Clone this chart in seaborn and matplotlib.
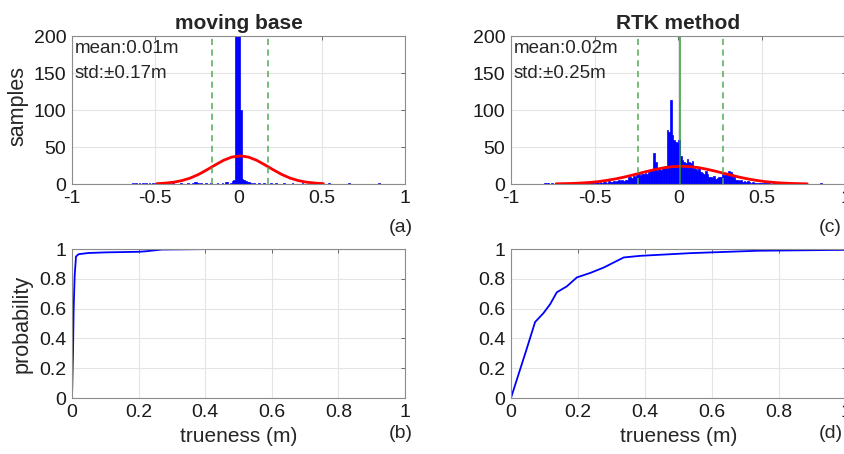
import numpy as np
import matplotlib
matplotlib.use("Agg")
import matplotlib.pyplot as plt
import seaborn as sns

# histogram data (bin width 0.01 m)
# moving base: sparse bins (centre, count)
mb_pos = [-0.635, -0.615, -0.595, -0.575, -0.555, -0.535, -0.515, -0.495, -0.455, -0.395,
          -0.345, -0.305, -0.275, -0.265, -0.255, -0.245, -0.225, -0.195, -0.165, -0.125,
          -0.095, -0.075, -0.065, -0.045, -0.035, -0.025, -0.015, -0.005, 0.005, 0.015,
          0.025, 0.035, 0.045, 0.055, 0.065, 0.075, 0.095, 0.125, 0.155, 0.195,
          0.225, 0.275, 0.325, 0.385, 0.465, 0.505, 0.545, 0.665, 0.845]
mb_cnt = [1, 1, 1, 1, 1, 1, 1, 1, 1, 1,
          1, 1, 2, 3, 3, 2, 2, 1, 1, 1,
          2, 3, 3, 2, 4, 5, 250, 620, 900, 100,
          7, 5, 4, 3, 3, 2, 1, 1, 1, 1,
          1, 1, 1, 1, 1, 1, 1, 1, 1]

# RTK: contiguous bins starting at -0.80, plus two outliers
rtk_start = -0.80
rtk_cnt = [2, 2, 1, 0, 1, 0, 0, 1, 0, 1, 1, 0, 1, 1, 0, 2, 1, 0, 1, 1,
           1, 2, 1, 1, 2, 1, 2, 1, 2, 2,
           2, 3, 2, 3, 2, 3, 3, 2, 4, 3, 3, 4, 3, 4, 5, 4, 5, 4, 6, 5,
           9, 10, 8, 11, 10, 12, 13, 11, 14, 13, 15, 14, 16, 17, 18,
           42, 30, 18, 20, 19, 21, 22, 25,
           73, 70, 114, 66, 60, 57, 55, 60,
           38, 32, 30, 28, 34, 30, 28, 31, 22,
           20, 18, 22, 16, 15, 14, 17, 13,
           10, 9, 8, 11, 7, 8, 9, 10,
           13, 12, 15, 14, 17, 16, 13, 9,
           6, 5, 4, 5, 3, 4, 3, 4, 3, 2, 3, 2, 2, 1, 2, 1,
           1, 1, 2, 1, 1, 0, 1, 1, 0, 1]
rtk_out_pos = [0.725, 0.855]
rtk_out_cnt = [2, 1]

# fitted normal curves
mb_fit_x = [-0.49, -0.44, -0.39, -0.34, -0.29, -0.24, -0.19, -0.14, -0.09, -0.04, 0.01,
            0.06, 0.11, 0.16, 0.21, 0.26, 0.31, 0.36, 0.41, 0.46, 0.51]
mb_fit_y = [0.5, 1.2, 2.4, 4.6, 8.0, 12.9, 19.1, 25.7, 32.0, 36.4, 38.0,
            36.4, 32.0, 25.7, 19.1, 12.9, 8.0, 4.6, 2.4, 1.2, 0.5]
rtk_fit_x = [-0.73, -0.68, -0.63, -0.58, -0.53, -0.48, -0.43, -0.38, -0.33, -0.28, -0.23,
             -0.18, -0.13, -0.08, -0.03, 0.02, 0.07, 0.12, 0.17, 0.22, 0.27,
             0.32, 0.37, 0.42, 0.47, 0.52, 0.57, 0.62, 0.67, 0.72, 0.77]
rtk_fit_y = [0.27, 0.48, 0.82, 1.35, 2.1, 3.2, 4.8, 6.7, 9.0, 11.7, 14.6,
             17.4, 20.0, 22.2, 23.5, 24.0, 23.5, 22.2, 20.0, 17.4, 14.6,
             11.7, 9.0, 6.7, 4.8, 3.2, 2.1, 1.35, 0.82, 0.48, 0.27]

# mean +- std markers
mb_std_lines = [-0.16, 0.18]
rtk_std_lines = [-0.24, 0.27]
rtk_mean_line = 0.01

# cumulative distributions
mb_cdf_x = [0, 0.003, 0.005, 0.008, 0.012, 0.02, 0.05, 0.1, 0.2, 0.22, 0.27, 0.4, 1.0]
mb_cdf_y = [0, 0.3, 0.6, 0.82, 0.95, 0.966, 0.974, 0.978, 0.982, 0.985, 0.997, 1.0, 1.0]
rtk_cdf_x = [0, 0.027, 0.047, 0.072, 0.097, 0.117, 0.137, 0.167, 0.197, 0.237, 0.277,
             0.307, 0.337, 0.387, 0.537, 0.737, 1.0]
rtk_cdf_y = [0, 0.19, 0.33, 0.51, 0.57, 0.63, 0.71, 0.75, 0.81, 0.84, 0.876,
             0.91, 0.944, 0.955, 0.973, 0.989, 0.995]

sns.set_style("whitegrid", {"axes.edgecolor": "#8c8c8c", "grid.color": "#e4e4e4"})
plt.rcParams['font.family'] = ['Liberation Sans', 'DejaVu Sans']

BLUE = "#0000ff"
DASH_GREEN = "#55aa55"
fig = plt.figure(figsize=(8.45, 4.54), dpi=100)
ax_a = fig.add_axes([0.0852, 0.5947, 0.394, 0.326])
ax_c = fig.add_axes([0.6047, 0.5947, 0.396, 0.326])
ax_b = fig.add_axes([0.0852, 0.1233, 0.394, 0.328])
ax_d = fig.add_axes([0.6047, 0.1233, 0.396, 0.328])


def style(ax):
    ax.tick_params(direction="in", length=3, width=0.6, color="#555555",
                   labelsize=14, labelcolor="#1a1a1a", top=True, right=True, pad=4)
    for sp in ax.spines.values():
        sp.set_linewidth(0.8)
    ax.grid(True, linewidth=0.8)


def hist_panel(ax, pos, cnt, edges, fit_x, fit_y, std_lines, title, txt, mean_line=None):
    sns.histplot(x=pos, weights=cnt, bins=edges, ax=ax, color=BLUE,
                 edgecolor=BLUE, linewidth=0.5, alpha=1)
    sns.lineplot(x=fit_x, y=fit_y, ax=ax, color="red", linewidth=2)
    for v in std_lines:
        ax.axvline(v, color=DASH_GREEN, linestyle=(0, (4, 3)), linewidth=1.1)
    if mean_line is not None:
        ax.axvline(mean_line, color="#2e9a2e", linewidth=1.1)
    ax.set_xlim(-1, 1)
    ax.set_ylim(0, 200)
    ax.set_xticks([-1, -0.5, 0, 0.5, 1])
    ax.set_xticklabels(["-1", "-0.5", "0", "0.5", "1"])
    ax.set_yticks([0, 50, 100, 150, 200])
    ax.set_title(title, fontsize=15, fontweight="bold", pad=5)
    ax.set_xlabel("")
    ax.set_ylabel("")
    ax.text(0.008, 0.97, txt, transform=ax.transAxes, ha="left", va="top",
            fontsize=13.5, linespacing=1.55)
    style(ax)


mb_edges = np.round(np.arange(-0.65, 1.0001, 0.01), 3).tolist()
hist_panel(ax_a, mb_pos, mb_cnt, mb_edges, mb_fit_x, mb_fit_y, mb_std_lines,
           "moving base", "mean:0.01m\nstd:\u00b10.17m")
ax_a.set_ylabel("samples", fontsize=15.5)
ax_a.yaxis.set_label_coords(-0.13, 0.53)

rtk_pos = np.round(rtk_start + 0.005 + 0.01 * np.arange(len(rtk_cnt)), 3).tolist() + rtk_out_pos
rtk_all = rtk_cnt + rtk_out_cnt
rtk_edges = np.round(np.arange(-0.82, 1.0001, 0.01), 3).tolist()
hist_panel(ax_c, rtk_pos, rtk_all, rtk_edges, rtk_fit_x, rtk_fit_y, rtk_std_lines,
           "RTK method", "mean:0.02m\nstd:\u00b10.25m", mean_line=rtk_mean_line)


def cdf_panel(ax, xs, ys):
    sns.lineplot(x=xs, y=ys, ax=ax, color=BLUE, linewidth=1.3)
    ax.set_xlim(0, 1)
    ax.set_ylim(0, 1)
    ax.set_xticks([0, 0.2, 0.4, 0.6, 0.8, 1])
    ax.set_xticklabels(["0", "0.2", "0.4", "0.6", "0.8", "1"])
    ax.set_yticks([0, 0.2, 0.4, 0.6, 0.8, 1])
    ax.set_yticklabels(["0", "0.2", "0.4", "0.6", "0.8", "1"])
    ax.set_xlabel("trueness (m)", fontsize=15)
    ax.xaxis.set_label_coords(0.5, -0.195)
    style(ax)


cdf_panel(ax_b, mb_cdf_x, mb_cdf_y)
ax_b.set_ylabel("probability", fontsize=15.5)
ax_b.yaxis.set_label_coords(-0.117, 0.5)
cdf_panel(ax_d, rtk_cdf_x, rtk_cdf_y)

for lab, x, y in [("(a)", 0.4746, 0.498), ("(b)", 0.4746, 0.046),
                  ("(c)", 0.983, 0.498), ("(d)", 0.983, 0.046)]:
    fig.text(x, y, lab, ha="center", va="center", fontsize=14)

fig.savefig("out.png", dpi=100)
